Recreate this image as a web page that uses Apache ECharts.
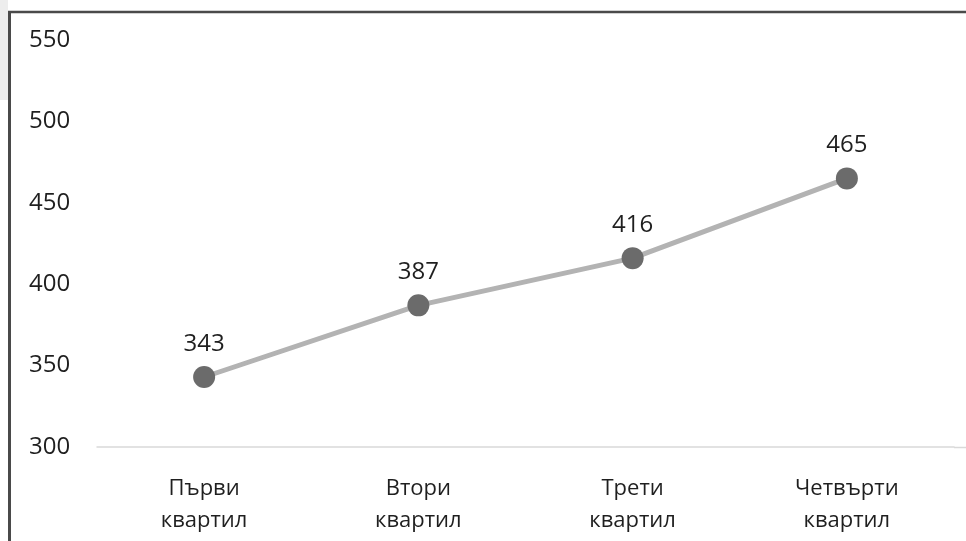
<!DOCTYPE html>
<html>
<head>
<meta charset="utf-8">
<script src="https://cdn.jsdelivr.net/npm/echarts@6/dist/echarts.min.js"></script>
<style>
html, body { margin: 0; padding: 0; background: #fff; }
#chart { width: 966px; height: 541px; }
</style>
</head>
<body>
<div id="chart"></div>
<script>
var categories = ['Първи\nквартил', 'Втори\nквартил', 'Трети\nквартил', 'Четвърти\nквартил'];
var values = [343, 387, 416, 465];
var yMin = 300, yMax = 550, yStep = 50;

var FONT = '"Open Sans", sans-serif';
var TEXT = '#1f1f1f';

var chart = echarts.init(document.getElementById('chart'));
var option = {
    backgroundColor: '#fff',
    animation: false,
    grid: { left: 97, right: 12, top: 40, bottom: 94 },
    graphic: [
        { type: 'rect', shape: { x: 0, y: 0, width: 8, height: 100 }, style: { fill: '#ededed' }, silent: true },
        { type: 'line', shape: { x1: 9.5, y1: 11, x2: 9.5, y2: 541 }, style: { stroke: '#4a4a4a', lineWidth: 3 }, silent: true },
        { type: 'line', shape: { x1: 8, y1: 12, x2: 966, y2: 12 }, style: { stroke: '#4a4a4a', lineWidth: 2.5 }, silent: true },
        // baseline runs on to the right edge
        { type: 'line', shape: { x1: 954, y1: 447.5, x2: 966, y2: 447.5 }, style: { stroke: '#d9d9d9', lineWidth: 1.5 }, silent: true }
    ],
    xAxis: {
        type: 'category',
        data: categories,
        boundaryGap: true,
        axisLine: { show: true, lineStyle: { color: '#d9d9d9', width: 1.5 } },
        axisTick: { show: false },
        axisLabel: {
            color: TEXT,
            fontFamily: FONT,
            fontSize: 22,
            lineHeight: 32,
            margin: 26,
            interval: 0
        }
    },
    yAxis: {
        type: 'value',
        min: yMin,
        max: yMax,
        interval: yStep,
        axisLine: { show: false },
        axisTick: { show: false },
        splitLine: { show: false },
        axisLabel: {
            color: TEXT,
            fontFamily: FONT,
            fontSize: 24,
            align: 'left',
            margin: 68
        }
    },
    series: [{
        type: 'line',
        data: values,
        symbol: 'circle',
        symbolSize: 22,
        lineStyle: { color: '#b3b3b3', width: 5 },
        itemStyle: { color: '#6b6b6b' },
        label: {
            show: true,
            position: 'top',
            distance: 10,
            color: TEXT,
            fontFamily: FONT,
            fontSize: 24
        }
    }]
};
chart.setOption(option);
</script>
</body>
</html>
